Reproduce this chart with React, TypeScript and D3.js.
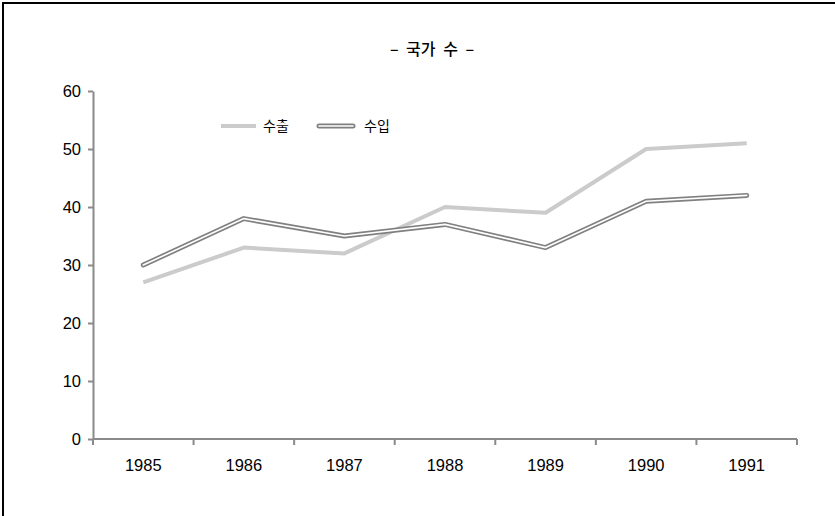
import React, { useEffect, useRef } from 'react';
import * as d3 from 'd3';

const years = ['1985', '1986', '1987', '1988', '1989', '1990', '1991'];
const exportCounts = [27, 33, 32, 40, 39, 50, 51];
const importCounts = [30, 38, 35, 37, 33, 41, 42];
const yTicks = [0, 10, 20, 30, 40, 50, 60];
const seriesNames = ['수출', '수입'];
const title = '– 국가 수 –';

const App = () => {
  const ref = useRef<SVGSVGElement | null>(null);

  useEffect(() => {
    document.body.style.overflow = 'hidden';
    const svg = d3.select(ref.current);
    svg.selectAll('*').remove();

    const left = 93, right = 797, top = 91, bottom = 439;
    const axisColor = '#8a8a8a';
    const labelFont = '"Liberation Sans", Arial, sans-serif';
    const koFont = '"Noto Sans CJK KR", sans-serif';

    // frame (only top and left visible)
    svg.append('path')
      .attr('d', 'M3,520 V3 H840')
      .attr('fill', 'none')
      .attr('stroke', '#000')
      .attr('stroke-width', 2);

    // title
    svg.append('text')
      .attr('x', 432)
      .attr('y', 55)
      .attr('text-anchor', 'middle')
      .style('font-family', koFont)
      .style('font-size', '16px')
      .style('font-weight', 500)
      .style('word-spacing', '4px')
      .text(title);

    const x = d3.scaleBand<string>().domain(years).range([left, right]);
    const y = d3.scaleLinear().domain([0, 60]).range([bottom, top]);
    const cx = (d: string) => (x(d) as number) + x.bandwidth() / 2;

    // y axis
    const yAxis = svg.append('g')
      .attr('transform', `translate(${left},0)`)
      .call(d3.axisLeft(y).tickValues(yTicks).tickSize(5).tickSizeOuter(0).tickPadding(7));
    yAxis.select('.domain').attr('stroke', axisColor).attr('stroke-width', 2);
    yAxis.selectAll('.tick line').attr('stroke', axisColor).attr('stroke-width', 2);
    yAxis.selectAll('.tick text')
      .attr('fill', '#000')
      .style('font-family', labelFont)
      .style('font-size', '16.5px');

    // x axis: line + ticks on band edges
    const xg = svg.append('g');
    xg.append('line')
      .attr('x1', left).attr('x2', right)
      .attr('y1', bottom).attr('y2', bottom)
      .attr('stroke', axisColor).attr('stroke-width', 2);
    const edges = years.map(d => x(d) as number).concat([right]);
    xg.selectAll('line.tk')
      .data(edges)
      .enter().append('line')
      .attr('class', 'tk')
      .attr('x1', d => d).attr('x2', d => d)
      .attr('y1', bottom).attr('y2', bottom + 6)
      .attr('stroke', axisColor).attr('stroke-width', 2);
    xg.selectAll('text')
      .data(years)
      .enter().append('text')
      .attr('x', d => cx(d))
      .attr('y', bottom + 32)
      .attr('text-anchor', 'middle')
      .style('font-family', labelFont)
      .style('font-size', '16.5px')
      .text(d => d);

    const line = d3.line<number>()
      .x((_, i) => cx(years[i]))
      .y(d => y(d));

    // 수출: thick light gray
    svg.append('path')
      .datum(exportCounts)
      .attr('fill', 'none')
      .attr('stroke', '#cbcbcb')
      .attr('stroke-width', 4)
      .attr('stroke-linejoin', 'round')
      .attr('d', line);

    // 수입: double line (dark outline, white core)
    svg.append('path')
      .datum(importCounts)
      .attr('fill', 'none')
      .attr('stroke', '#808080')
      .attr('stroke-width', 5)
      .attr('stroke-linejoin', 'round')
      .attr('stroke-linecap', 'round')
      .attr('d', line);
    svg.append('path')
      .datum(importCounts)
      .attr('fill', 'none')
      .attr('stroke', '#fff')
      .attr('stroke-width', 1.6)
      .attr('stroke-linejoin', 'round')
      .attr('stroke-linecap', 'round')
      .attr('d', line);

    // legend
    const lg = svg.append('g');
    lg.append('line')
      .attr('x1', 221).attr('x2', 256).attr('y1', 126).attr('y2', 126)
      .attr('stroke', '#cbcbcb').attr('stroke-width', 4);
    lg.append('text')
      .attr('x', 263).attr('y', 131)
      .style('font-family', koFont).style('font-size', '14px')
      .text(seriesNames[0]);
    lg.append('line')
      .attr('x1', 319).attr('x2', 353).attr('y1', 126).attr('y2', 126)
      .attr('stroke', '#808080').attr('stroke-width', 5).attr('stroke-linecap', 'round');
    lg.append('line')
      .attr('x1', 319).attr('x2', 353).attr('y1', 126).attr('y2', 126)
      .attr('stroke', '#fff').attr('stroke-width', 1.6).attr('stroke-linecap', 'round');
    lg.append('text')
      .attr('x', 364).attr('y', 131)
      .style('font-family', koFont).style('font-size', '14px')
      .text(seriesNames[1]);
  }, []);

  return (
    <svg
      ref={ref}
      width={835}
      height={516}
      style={{ position: 'absolute', left: 0, top: 0, background: '#fff' }}
    />
  );
};

export default App;
